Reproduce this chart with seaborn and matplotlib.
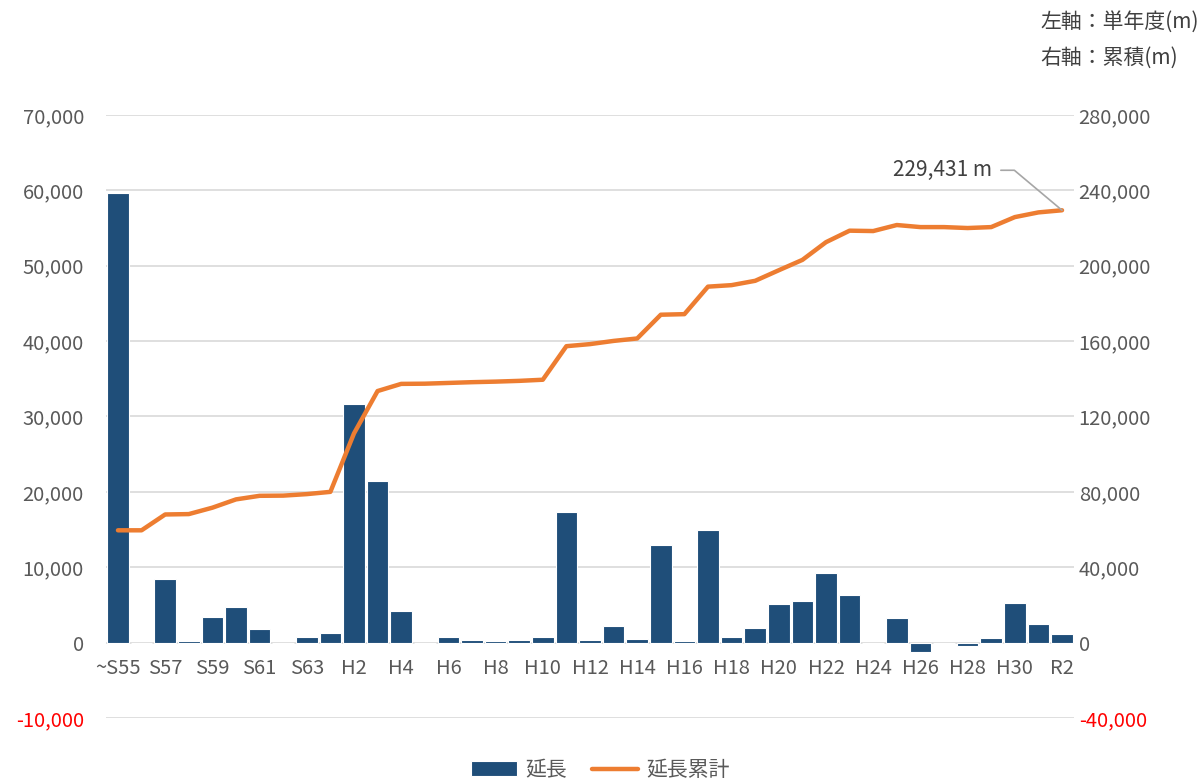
import numpy as np
import matplotlib
matplotlib.use("Agg")
import matplotlib.pyplot as plt
import seaborn as sns

# 年度ラベル (~S55 ～ R2)
categories = (["~S55"] + [f"S{n}" for n in range(56, 64)]
              + [f"H{n}" for n in range(1, 31)] + ["R1", "R2"])

# 単年度の延長 (m)
yearly = [59600, 0, 8500, 150, 3400, 4730, 1860, 0, 800, 1290,
          31700, 21480, 4240, 0, 700, 400, 150, 400, 700, 17300,
          350, 2150, 500, 13000, 150, 15000, 700, 1900, 5100, 5570,
          9190, 6310, 0, 3220, -1250, 0, -450, 570, 5300, 2430,
          1190]

# 延長累計 (m)
cumulative = [59600, 59600, 68000, 68200, 71600, 76000, 77900, 78000, 78800, 80000,
              111000, 133500, 137300, 137400, 137800, 138200, 138500, 138900, 139500, 157300,
              158400, 160100, 161400, 174000, 174300, 188900, 189700, 192000, 197600, 203100,
              212500, 218600, 218400, 221600, 220500, 220500, 220000, 220500, 225800, 228300,
              229431]

left_ticks = [-10000, 0, 10000, 20000, 30000, 40000, 50000, 60000, 70000]
right_ticks = [-40000, 0, 40000, 80000, 120000, 160000, 200000, 240000, 280000]

bar_color = "#1f4e79"
line_color = "#ed7d31"
text_gray = "#595959"

sns.set_style("white")
plt.rcParams["font.family"] = ["Noto Sans CJK JP", "DejaVu Sans"]

fig = plt.figure(figsize=(12.01, 7.80), dpi=100)
ax = fig.add_axes([0.0884, 0.0795, 0.8057, 0.7731])
ax2 = ax.twinx()

pos = np.arange(len(categories))

sns.barplot(x=pos, y=yearly, ax=ax, color=bar_color, width=0.92,
            edgecolor="white", linewidth=0.8, saturation=1, native_scale=True,
            label="延長")
sns.lineplot(x=pos, y=cumulative, ax=ax2, color=line_color, linewidth=3.2,
             label="延長累計", legend=False)

ax.set_xlim(-0.5, len(categories) - 0.5)
ax.set_ylim(left_ticks[0], left_ticks[-1])
ax2.set_ylim(right_ticks[0], right_ticks[-1])

ax.set_yticks(left_ticks)
ax.set_yticklabels([f"{v:,}" for v in left_ticks])
ax2.set_yticks(right_ticks)
ax2.set_yticklabels([f"{v:,}" for v in right_ticks])
for lab, v in zip(ax.get_yticklabels(), left_ticks):
    lab.set_color("red" if v < 0 else text_gray)
for lab, v in zip(ax2.get_yticklabels(), right_ticks):
    lab.set_color("red" if v < 0 else text_gray)

ax.yaxis.grid(True, color="#d9d9d9", linewidth=1.2)
ax.set_axisbelow(True)

# x軸ラベルは0の位置に
ax.set_xticks(pos[::2])
ax.set_xticklabels(categories[::2])
ax.spines["bottom"].set_position(("data", 0))
for a in (ax, ax2):
    for s in a.spines.values():
        s.set_visible(False)
ax.tick_params(axis="x", length=0, pad=11, labelsize=14.5, labelcolor=text_gray)
ax.tick_params(axis="y", length=0, pad=16, labelsize=14.5)
ax2.tick_params(axis="y", length=0, pad=3.5, labelsize=14.5)
ax.set_xlabel("")
ax.set_ylabel("")
ax2.set_ylabel("")

# 最終値の注記
ax2.annotate(f"{cumulative[-1]:,} m", xy=(pos[-1], cumulative[-1]),
             xytext=(-70, 40), textcoords="offset pixels",
             ha="right", va="center", fontsize=15, color="#404040",
             arrowprops=dict(arrowstyle="-", color="#a6a6a6", lw=1.2,
                             shrinkA=4, shrinkB=0,
                             connectionstyle="angle,angleA=0,angleB=-40,rad=0"))

fig.text(0.866, 0.972, "左軸：単年度(m)", fontsize=15, color="#404040", va="center")
fig.text(0.866, 0.926, "右軸：累積(m)", fontsize=15, color="#404040", va="center")

h1, l1 = ax.get_legend_handles_labels()
h2, l2 = ax2.get_legend_handles_labels()
if ax.get_legend():
    ax.get_legend().remove()
fig.legend(h1 + h2, l1 + l2, loc="center", bbox_to_anchor=(0.5, 0.013),
           ncol=2, frameon=False, fontsize=15, handlelength=2.2,
           handletextpad=0.4, columnspacing=1.2, labelcolor=text_gray)

fig.savefig("out.png", dpi=100)
